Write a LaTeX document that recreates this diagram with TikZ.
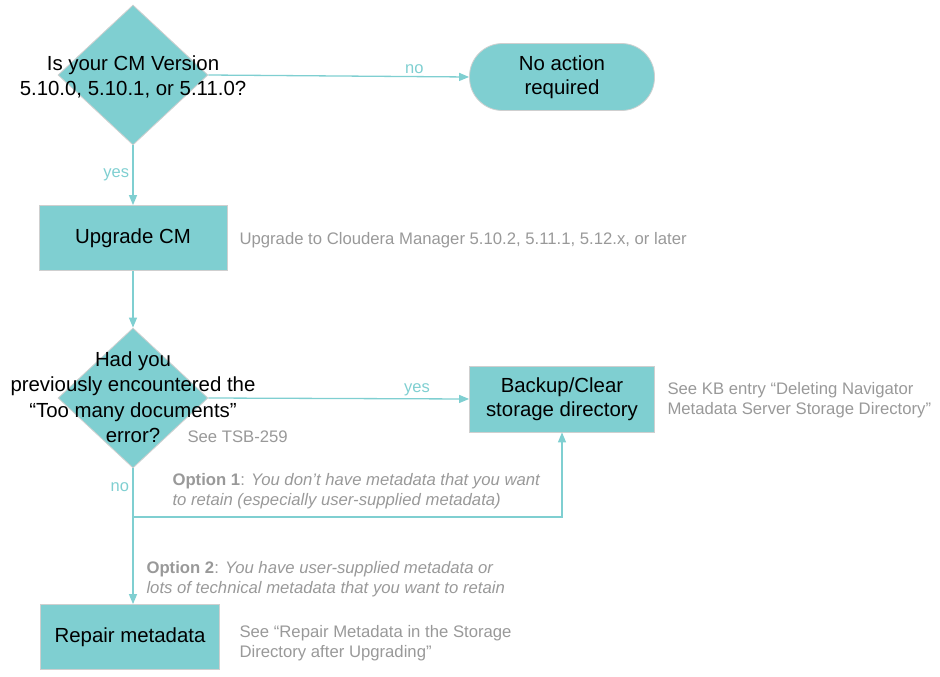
\documentclass[tikz,border=0pt]{standalone}
\usepackage{fontspec}
\setmainfont{Liberation Sans}
\usetikzlibrary{arrows.meta,shapes.geometric,positioning}

\definecolor{flowteal}{HTML}{7FCFD1}
\definecolor{flowedge}{HTML}{CFCFCF}
\definecolor{notegray}{HTML}{999999}

\begin{document}
\begin{tikzpicture}[x=1pt,y=-1pt,
    decision/.style={diamond,fill=flowteal,draw=flowedge,line width=0.8pt,
        minimum width=150pt,minimum height=140pt,inner sep=0pt},
    question/.style={align=center,font=\fontsize{20.4}{25.5}\selectfont},
    process/.style={rectangle,fill=flowteal,draw=flowedge,line width=0.8pt,
        align=center,font=\fontsize{20.4}{24.5}\selectfont,minimum height=65pt},
    terminal/.style={process,rounded corners=33pt,minimum height=67pt},
    flow/.style={draw=flowteal,line width=1.3pt,-{Triangle[length=10pt,width=8pt]}},
    edgelabel/.style={text=flowteal,font=\fontsize{16.5}{18}\selectfont},
    note/.style={text=notegray,anchor=west,align=left,font=\fontsize{16.7}{20.5}\selectfont}
]
\useasboundingbox (0,0) rectangle (940,677);

% First question
\node[decision] (cmcheck) at (133,75) {};
\node[question] (cmcheckText) at (133,77) {Is your CM Version\\5.10.0, 5.10.1, or 5.11.0?};

\node[terminal,minimum width=185pt] (noaction) at (562,77) {No action\\required};

% Upgrade
\node[process,minimum width=188pt] (upgrade) at (133,238) {Upgrade CM};
\node[note] (upgradeNote) at (236,240) {Upgrade to Cloudera Manager 5.10.2, 5.11.1, 5.12.x, or later};

% Second question
\node[decision] (toomany) at (133,398) {};
\node[question] (toomanyText) at (133,397) {Had you\\previously encountered the\\“Too many documents”\\error?};
\node[note] (tsbNote) at (184,437) {See TSB-259};

\node[process,minimum width=185pt,minimum height=66pt] (backup) at (562,399) {Backup/Clear\\storage directory};
\node[note] (backupNote) at (664,400) {See KB entry “Deleting Navigator\\Metadata Server Storage Directory”};

% Options
\node[note] (optionOne) at (169,491) {\textbf{Option 1}: \textit{You don’t have metadata that you want}\\\textit{to retain (especially user-supplied metadata)}};
\node[note] (optionTwo) at (143,579) {\textbf{Option 2}: \textit{You have user-supplied metadata or}\\\textit{lots of technical metadata that you want to retain}};

% Repair
\node[process,minimum width=179pt] (repair) at (130,637) {Repair metadata};
\node[note] (repairNote) at (236,643) {See “Repair Metadata in the Storage\\Directory after Upgrading”};

% Connectors
\draw[flow] (cmcheck.east) -- node[edgelabel,above=-1pt,pos=0.79] {no} (noaction.west);
\draw[flow] (cmcheck.south) -- node[edgelabel,left,pos=0.5] {yes} (upgrade.north);
\draw[flow] (upgrade.south) -- (toomany.north);
\draw[flow] (toomany.east) -- node[edgelabel,above=-1pt,pos=0.8] {yes} (backup.west);
\draw[flow] (toomany.south) -- node[edgelabel,left,pos=0.14] {no} (toomany.south |- repair.north);
\coordinate (split) at (133,517);
\draw[flow] (split) -| (backup.south);

\end{tikzpicture}
\end{document}
